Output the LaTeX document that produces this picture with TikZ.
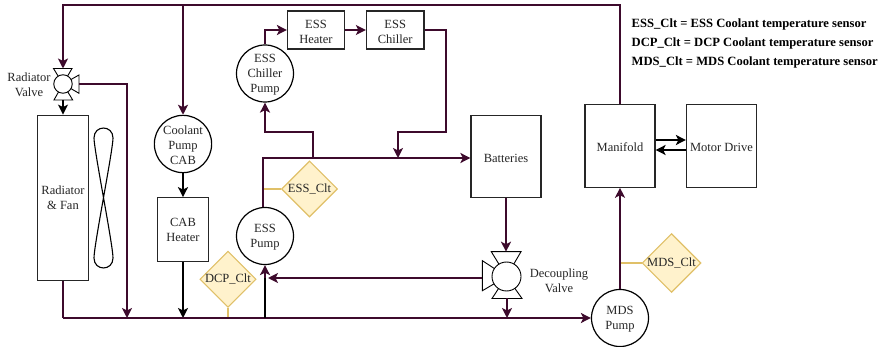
\documentclass[tikz,border=0pt]{standalone}
\usepackage{fontspec}
\setmainfont{Liberation Serif}
\usetikzlibrary{shapes.geometric,arrows.meta,calc}
\definecolor{pipe}{HTML}{3D0A2C}
\definecolor{sensorfill}{HTML}{FFF2CC}
\definecolor{sensorline}{HTML}{E0C068}
\newcommand{\lowline}{\rule{0pt}{11.5pt}}
\tikzset{
  txt/.style={font=\fontsize{12.5}{15}\selectfont,align=center,inner sep=0pt,text=black!85},
  boxn/.style={txt,draw=black!85,line width=1.2pt,rectangle,fill=white},
  lowtext/.style={text height=12.5pt,text depth=0pt},
  pump/.style={txt,draw=black,line width=1.2pt,circle,minimum size=57pt,fill=white},
  valvec/.style={draw=black,line width=0.9pt,circle,inner sep=0pt,fill=white},
  valvep/.style={draw=black,line width=0.9pt,fill=white},
  sensor/.style={txt,draw=sensorline,fill=sensorfill,line width=1.1pt,diamond,aspect=1,minimum size=56pt},
  sline/.style={draw=sensorline,line width=1.6pt},
  tip/.style={-{Stealth[length=10pt,width=10pt,inset=2.5pt]}},
  hot/.style={draw=pipe,line width=1.8pt},
  cold/.style={draw=black,line width=1.8pt},
  legend/.style={font=\fontsize{12.6}{15}\selectfont\bfseries,anchor=west,inner sep=0pt}
}
\begin{document}
\begin{tikzpicture}[x=1pt,y=-1pt]
\useasboundingbox (0,0) rectangle (881,347);
% nodes
\node[boxn,minimum width=51pt,minimum height=165pt] (rad) at (63,197.7) {Radiator\\\& Fan};
\node[pump] (cool) at (183,144) {\lowline Coolant\\Pump\\CAB};
\node[boxn,minimum width=50.5pt,minimum height=63.5pt] (cab) at (183,229.5) {CAB\\Heater};
\node[pump] (esspump) at (265,236) {\lowline ESS\\Pump};
\node[pump] (chillpump) at (265,73.5) {\lowline ESS\\Chiller\\Pump};
\node[boxn,minimum width=57pt,minimum height=38pt] (heater) at (316,30) {\lowline ESS\\Heater};
\node[boxn,minimum width=57.5pt,minimum height=38pt] (chiller) at (395.2,30) {\lowline ESS\\Chiller};
\node[boxn,lowtext,minimum width=70pt,minimum height=82pt] (batt) at (506,156.5) {Batteries};
\node[boxn,lowtext,minimum width=70pt,minimum height=83pt] (mani) at (620,145.7) {Manifold};
\node[boxn,lowtext,minimum width=70pt,minimum height=83pt] (motor) at (721.5,145.7) {Motor Drive};
\node[pump] (mds) at (620,318) {\lowline MDS\\Pump};
\node[sensor] (sdcp) at (228,279.2) {DCP\_Clt};
\node[sensor] (sess) at (309.5,189) {ESS\_Clt};
\node[sensor] (smds) at (671.5,263) {MDS\_Clt};
% valves
\coordinate (rv) at (63,84);
\draw[valvep] (53.5,68.5) -- (72,68.5) -- (63,84) -- cycle;
\draw[valvep] (54,100) -- (72.7,100) -- (63,84) -- cycle;
\draw[valvep] (79,75) -- (79,93.3) -- (63,84) -- cycle;
\node[valvec,minimum size=18.5pt] (rvc) at (rv) {};
\coordinate (rvt) at (63,68.5); \coordinate (rvb) at (63,100); \coordinate (rvr) at (79,84);
\coordinate (dv) at (506.5,276.5);
\draw[valvep] (491.3,251.7) -- (521,251.7) -- (dv) -- cycle;
\draw[valvep] (492,298.5) -- (522,298.5) -- (dv) -- cycle;
\draw[valvep] (482.4,260.7) -- (482.4,290.7) -- (dv) -- cycle;
\node[valvec,minimum size=29pt] (dvc) at (dv) {};
\coordinate (dvt) at (506,251.7); \coordinate (dvb) at (507,298.5); \coordinate (dvl) at (482.4,278);
% labels
\node[txt] (lrv) at (29,84.5) {Radiator\\Valve};
\node[txt] (ldv) at (559,281) {Decoupling\\Valve};
\node[legend] (l1) at (631.5,24.5) {ESS\_Clt = ESS Coolant temperature sensor};
\node[legend] (l2) at (631.5,43.5) {DCP\_Clt = DCP Coolant temperature sensor};
\node[legend] (l3) at (631.5,62.5) {MDS\_Clt = MDS Coolant temperature sensor};
% fan
\draw[black,line width=1.1pt] (94,138) .. controls (94,124.7) and (113,124.7) .. (113,138)
  .. controls (113,150) and (94,245) .. (94,258)
  .. controls (94,271.3) and (113,271.3) .. (113,258)
  .. controls (113,245) and (94,150) .. (94,138) -- cycle;
% junction coordinates
\coordinate (top) at (183,5);
\coordinate (manitop) at (mani.north);
\coordinate (rtop) at (63,5);
\coordinate (base) at (63,318);
\coordinate (r1) at (127,318);
\coordinate (c1) at (183,318);
\coordinate (e1) at (265,318);
\coordinate (e2) at (265,278);
\coordinate (d1) at (507,318);
\coordinate (ep) at (263,158);
\coordinate (j1) at (313,158);
\coordinate (j2) at (398,158);
\coordinate (bw) at (batt.west |- ep);
% top header
\draw[hot,tip] (manitop) -- (620,5) -- (rtop) -- (rvt);
\draw[hot,tip] (top) -- (cool.north);
\draw[cold,tip] (rvb) -- (rad.north);
\draw[hot,tip] (rvr) -- (127,84) -- (r1);
\draw[cold,tip] (cool.south) -- (cab.north);
\draw[cold,tip] (cab.south) -- (c1);
% bottom return
\draw[hot] (rad.south) -- (base);
\draw[hot,tip] (base) -- (mds.west);
\draw[cold] (e1) -- (e2);
\draw[hot,tip] (e2) -- (esspump.south);
\draw[hot,tip] (dvl) -- (268,278);
\draw[hot,tip] (dvb) -- (d1);
\draw[hot,tip] (batt.south) -- (dvt);
% ESS loop
\draw[hot,tip] (ep |- esspump.north) -- (ep) -- (bw);
\draw[hot,tip] (j1) -- (313,132) -- (265,132) -- (chillpump.south);
\draw[hot,tip] (chillpump.north) |- (heater.west);
\draw[hot,tip] (heater.east) -- (chiller.west);
\draw[hot,tip] (chiller.east) -- (446,30) -- (446,132) -- (398,132) -- (j2);
% MDS
\draw[hot,tip] (mds.north) -- (mani.south);
\draw[cold,tip] (mani.east |- 0,140) -- (motor.west |- 0,140);
\draw[cold,tip] (motor.west |- 0,150) -- (mani.east |- 0,150);
% sensor stubs
\draw[sline] (sdcp.south) -- (228,317.5);
\draw[sline] (sess.west) -- (263.8,189);
\draw[sline] (smds.west) -- (620.8,263);
\end{tikzpicture}
\end{document}
